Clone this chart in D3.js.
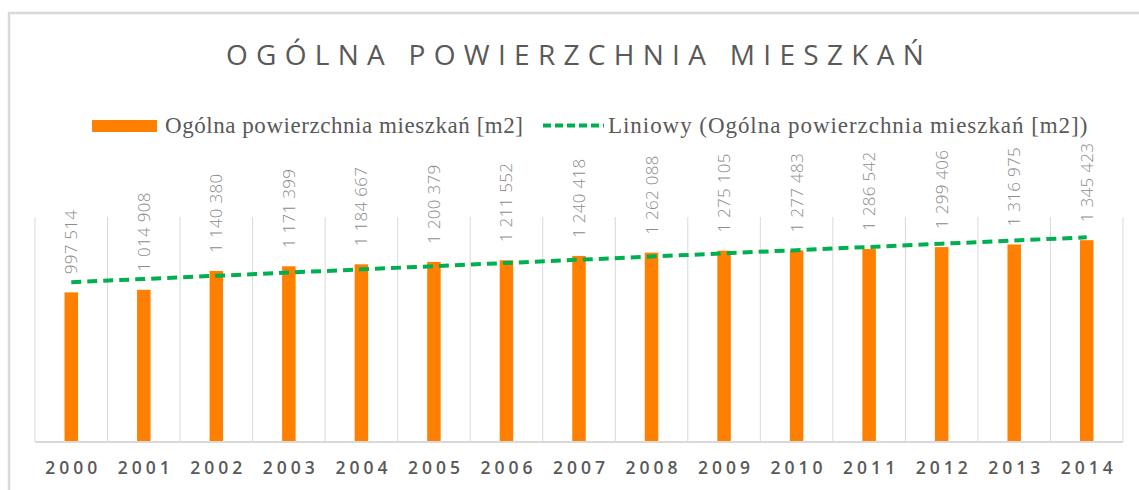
<!DOCTYPE html>
<html>
<head>
<meta charset="utf-8">
<script src="https://cdn.jsdelivr.net/npm/d3@7"></script>
<style>
  body { margin: 0; background: #fff; }
  svg { display: block; }
</style>
</head>
<body>
<svg id="chart" width="1139" height="490"></svg>
<script>
const years = ["2000", "2001", "2002", "2003", "2004", "2005", "2006", "2007",
    "2008", "2009", "2010", "2011", "2012", "2013", "2014"];
const area = [997514, 1014908, 1140380, 1171399, 1184667, 1200379, 1211552, 1240418,
    1262088, 1275105, 1277483, 1286542, 1299406, 1316975, 1345423];
const seriesName = "Ogólna powierzchnia mieszkań [m2]";
const trendName = "Liniowy (Ogólna powierzchnia mieszkań [m2])";
const title = "OGÓLNA POWIERZCHNIA MIESZKAŃ";

const svg = d3.select("#chart");
const plotL = 35, plotR = 1123, plotT = 217, plotB = 442;

// chart frame (only left and top edges are visible in the crop)
svg.append("rect")
    .attr("x", 9).attr("y", 13)
    .attr("width", 1160).attr("height", 500)
    .style("fill", "none")
    .style("stroke", "#d9d9d9")
    .style("stroke-width", 2.5);

svg.append("text")
    .attr("x", 579).attr("y", 65)
    .attr("text-anchor", "middle")
    .style("font-family", "'Open Sans', sans-serif")
    .style("font-weight", 400)
    .style("font-size", "28px")
    .style("letter-spacing", "8.3px")
    .style("fill", "#595959")
    .text(title);

const x = d3.scaleBand().domain(years).range([plotL, plotR]);
const y = d3.scaleLinear().domain([0, 1500000]).range([plotB, plotT]);
const bw = x.bandwidth();
const barW = 13.5;

// vertical gridlines between categories
svg.append("g")
    .selectAll("line")
    .data(years.concat(["end"]))
    .enter().append("line")
    .attr("x1", d => d === "end" ? plotR : x(d))
    .attr("x2", d => d === "end" ? plotR : x(d))
    .attr("y1", plotT).attr("y2", plotB)
    .style("stroke", "#d9d9d9")
    .style("stroke-width", 1);

svg.selectAll("rect.bar")
    .data(area)
    .enter().append("rect")
    .attr("class", "bar")
    .attr("x", (d, i) => x(years[i]) + (bw - barW) / 2)
    .attr("y", d => y(d))
    .attr("width", barW)
    .attr("height", d => plotB - y(d))
    .style("fill", "#ff8000");

// axis line
svg.append("line")
    .attr("x1", plotL).attr("x2", plotR)
    .attr("y1", plotB).attr("y2", plotB)
    .style("stroke", "#d9d9d9")
    .style("stroke-width", 2);

// x labels
svg.append("g")
    .selectAll("text")
    .data(years)
    .enter().append("text")
    .attr("x", d => x(d) + bw / 2 + 2)
    .attr("y", 474)
    .attr("text-anchor", "middle")
    .style("font-family", "'Open Sans', sans-serif")
    .style("font-weight", 600)
    .style("font-size", "17.5px")
    .style("letter-spacing", "4px")
    .style("fill", "#595959")
    .text(d => d);

// value labels
const pl = d3.formatLocale({ decimal: ",", thousands: " ", grouping: [3], currency: ["", ""] });
const fmt = pl.format(",d");
svg.append("g")
    .selectAll("text")
    .data(area)
    .enter().append("text")
    .attr("transform", (d, i) => `translate(${x(years[i]) + bw / 2 + 6},${y(d) - 18}) rotate(-90)`)
    .attr("text-anchor", "start")
    .style("font-family", "'Open Sans', sans-serif")
    .style("font-weight", 300)
    .style("font-size", "17px")
    .style("letter-spacing", "0.3px")
    .style("fill", "#8c8c8c")
    .text(d => fmt(d));

// linear trendline (least squares over the series)
const n = area.length;
const xs = d3.range(1, n + 1);
const mx = d3.mean(xs), my = d3.mean(area);
const slope = d3.sum(xs, (v, i) => (v - mx) * (area[i] - my)) / d3.sum(xs, v => (v - mx) * (v - mx));
const icpt = my - slope * mx;
const trend = xs.map(v => icpt + slope * v);

const line = d3.line()
    .x((d, i) => x(years[i]) + bw / 2)
    .y(d => y(d));
svg.append("path")
    .datum(trend)
    .attr("d", line)
    .style("fill", "none")
    .style("stroke", "#00b050")
    .style("stroke-width", 4)
    .style("stroke-dasharray", "10,6");

// legend
const legend = svg.append("g");
legend.append("rect")
    .attr("x", 92).attr("y", 120)
    .attr("width", 65).attr("height", 12)
    .style("fill", "#ff8000");
legend.append("text")
    .attr("x", 165).attr("y", 133)
    .style("font-family", "'Liberation Serif', serif")
    .style("font-size", "23px")
    .style("letter-spacing", "0.55px")
    .style("fill", "#595959")
    .text(seriesName);
legend.append("line")
    .attr("x1", 543).attr("x2", 604)
    .attr("y1", 125.5).attr("y2", 125.5)
    .style("stroke", "#00b050")
    .style("stroke-width", 4)
    .style("stroke-dasharray", "8,4");
legend.append("text")
    .attr("x", 608).attr("y", 133)
    .style("font-family", "'Liberation Serif', serif")
    .style("font-size", "23px")
    .style("letter-spacing", "0.95px")
    .style("fill", "#595959")
    .text(trendName);
</script>
</body>
</html>
